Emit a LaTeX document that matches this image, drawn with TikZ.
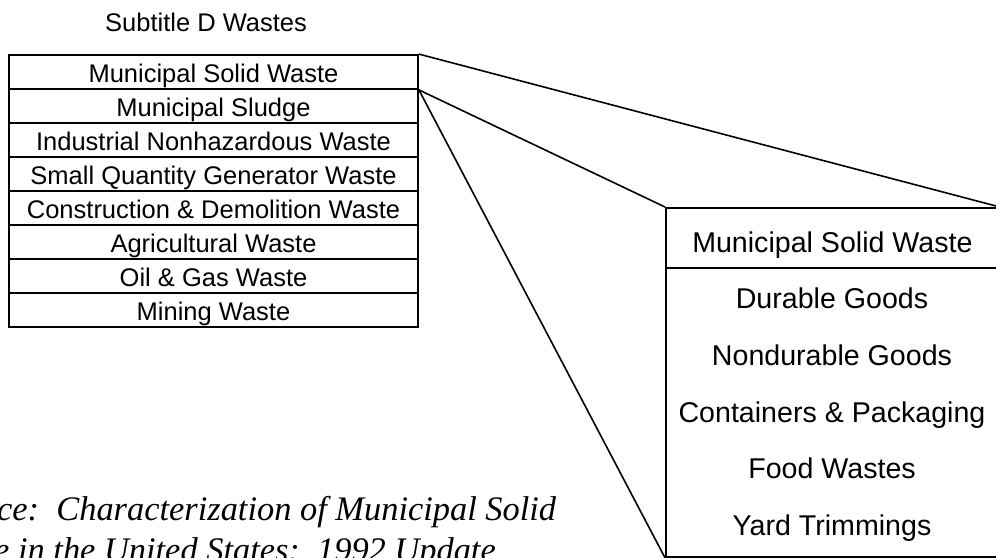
\documentclass[tikz,border=0pt]{standalone}
\usepackage{fontspec}
\setmainfont{Liberation Sans}
\newfontfamily\srcfont{Liberation Serif}

\begin{document}
\begin{tikzpicture}[x=1pt,y=-1pt,
  wrow/.style={draw=black,line width=1.8pt,minimum width=409pt,minimum height=34pt,inner sep=0pt,text height=21pt,text depth=0pt,font=\fontsize{25.5}{28}\selectfont},
  mbox/.style={draw=black,line width=1.8pt,minimum width=333pt,inner sep=0pt,anchor=north west},
  mitem/.style={anchor=base,inner sep=0pt,font=\fontsize{28.6}{32}\selectfont},
  srcline/.style={anchor=base west,inner sep=0pt,font=\srcfont\itshape\fontsize{34.4}{41}\selectfont},
  link/.style={-,line width=1.6pt}]
\useasboundingbox (0,0) rectangle (996,557);
\clip (0,0) rectangle (996,557);
% \draw[help lines] (0,0) grid (996,557);
\node (sub) [anchor=base west,inner sep=0pt,font=\fontsize{25.5}{28}\selectfont] at (105,31) {Subtitle D Wastes};
\node (w1) [wrow] at (213.5,72) {Municipal Solid Waste};
\node (w2) [wrow] at (213.5,106) {Municipal Sludge};
\node (w3) [wrow] at (213.5,140) {Industrial Nonhazardous Waste};
\node (w4) [wrow] at (213.5,174) {Small Quantity Generator Waste};
\node (w5) [wrow] at (213.5,208) {Construction \& Demolition Waste};
\node (w6) [wrow] at (213.5,242) {Agricultural Waste};
\node (w7) [wrow] at (213.5,276) {Oil \& Gas Waste};
\node (w8) [wrow] at (213.5,310) {Mining Waste};
%
\node (mhead) [mbox,minimum height=60pt,text height=30pt,text depth=0pt,font=\fontsize{28.6}{32}\selectfont] at (665,207) {Municipal Solid Waste};
\node (mbody) [mbox,minimum height=289pt] at (665,267) {};
\node (m1) [mitem] at (832,308) {Durable Goods};
\node (m2) [mitem] at (832,365) {Nondurable Goods};
\node (m3) [mitem] at (832,422) {Containers \& Packaging};
\node (m4) [mitem] at (832,478) {Food Wastes};
\node (m5) [mitem] at (832,535) {Yard Trimmings};
%
\node (src1) [srcline] at (-3,520) {ce:\ \ Characterization of Municipal Solid};
\node (src2) [srcline] at (-6,561) {e in the United States:\ \ 1992 Update};
%
\path[link] (w1.north east) edge (mhead.north east);
\path[link] (w1.south east) edge (mhead.north west);
\path[link] (w1.south east) edge (mbody.south west);
\end{tikzpicture}
\end{document}
